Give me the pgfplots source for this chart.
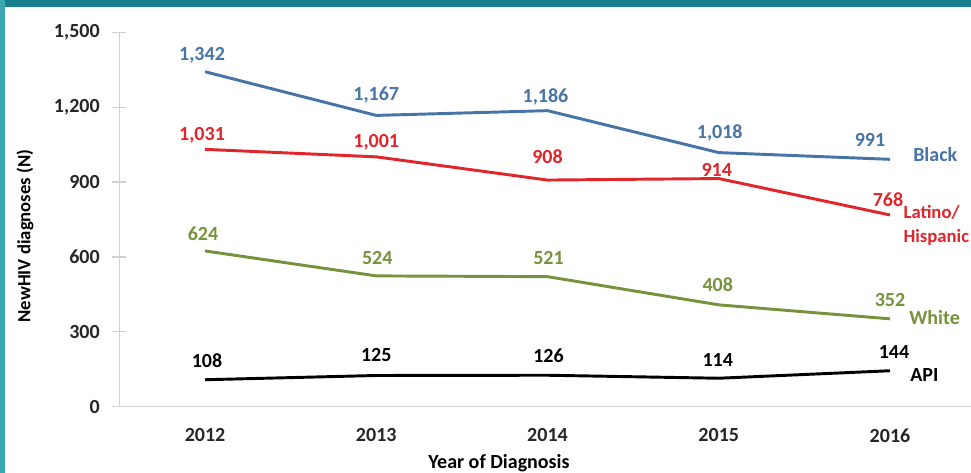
\documentclass[border=0pt]{standalone}
\usepackage{pgfplots}
\pgfplotsset{compat=1.18}
\usepackage{pgfplotstable}
\usepackage{fontspec}
\setmainfont{Carlito}
\definecolor{cblue}{HTML}{4674A6}
\definecolor{cred}{HTML}{E0262B}
\definecolor{cgreen}{HTML}{77923C}
\definecolor{tealtop}{HTML}{1A7F8C}
\definecolor{tealleft}{HTML}{3AA7AF}
\definecolor{axgray}{HTML}{D0D0D0}
\newcommand\lf{\fontsize{15}{17}\selectfont\bfseries}

% columns: x index, value, label offsets (px)
\pgfplotstableread{
x y lx ly
0 1342 -3 16
1 1167 0 20
2 1186 -2 14
3 1018 1 20
4 991 -20 19
}\blacktab
\pgfplotstableread{
x y lx ly
0 1031 -3 14
1 1001 0 15
2 908 0 23
3 914 -2 9
4 768 -2 15
}\latinotab
\pgfplotstableread{
x y lx ly
0 624 -2 17
1 524 1 18
2 521 1 19
3 408 -1 20
4 352 0 19
}\whitetab
\pgfplotstableread{
x y lx ly
0 108 2 19
1 125 0 20
2 126 1 19
3 114 -1 18
4 144 4 19
}\apitab

\begin{document}
\begin{tikzpicture}
\useasboundingbox (0,0) rectangle (728.25pt,354.75pt);
\clip (0,0) rectangle (728.25pt,354.75pt);
\fill[white] (0,0) rectangle (728.25pt,354.75pt);
\begin{axis}[
  at={(89.55pt,49.725pt)}, anchor=south west,
  scale only axis, width=638.7pt, height=280.8pt,
  xmin=-0.5, xmax=4.473, ymin=0, ymax=1500,
  axis lines*=left,
  axis line style={draw=axgray, line width=1pt},
  xtick={0,1,2,3,4}, xticklabels={2012,2013,2014,2015,2016},
  ytick={0,300,600,900,1200,1500},
  tick align=center, major tick length=10.5pt,
  tick style={draw=axgray, line width=1pt},
  x tick style={draw=none},
  /pgf/number format/1000 sep={,},
  /pgf/number format/assume math mode=true,
  tick label style={font=\lf, text=black!85},
  yticklabel style={xshift=-6pt},
  xticklabel style={yshift=-7.5pt},
  clip=false,
  no markers,
  every axis plot/.append style={line width=2.2pt, line join=round},
  nodes near coords,
  visualization depends on={\thisrow{lx}\as\lx},
  visualization depends on={\thisrow{ly}\as\ly},
  every node near coord/.append style={anchor=center, font=\lf,
     xshift=\lx*0.75pt, yshift=\ly*0.75pt},
]
\addplot[cblue, every node near coord/.append style={text=cblue}] table[x=x,y=y]{\blacktab};
\addplot[cred, every node near coord/.append style={text=cred}] table[x=x,y=y]{\latinotab};
\addplot[cgreen, every node near coord/.append style={text=cgreen}] table[x=x,y=y]{\whitetab};
\addplot[black, every node near coord/.append style={text=black}] table[x=x,y=y]{\apitab};
\end{axis}
\node[anchor=west, inner sep=0, text=cblue, font=\lf] at (684.75pt,238.5pt) {Black};
\node[anchor=west, inner sep=0, text=cred, font=\fontsize{14}{16}\selectfont\bfseries] at (677.5pt,195.75pt) {Latino/};
\node[anchor=west, inner sep=0, text=cred, font=\fontsize{14}{16}\selectfont\bfseries] at (677.5pt,177pt) {Hispanic};
\node[anchor=west, inner sep=0, text=cgreen, font=\lf] at (681.75pt,116.25pt) {White};
\node[anchor=west, inner sep=0, text=black, font=\lf] at (682.5pt,73.5pt) {API};
\node[rotate=90, inner sep=0, font=\fontsize{14}{16}\selectfont\bfseries] at (18.75pt,177.75pt) {NewHIV diagnoses (N)};
\node[inner sep=0, font=\lf] at (374.25pt,7.5pt) {Year of Diagnosis};
\fill[tealtop] (0,354.75pt) rectangle (728.25pt,349.5pt);
\fill[tealleft] (0,0) rectangle (3.75pt,354.75pt);
\end{tikzpicture}
\end{document}
